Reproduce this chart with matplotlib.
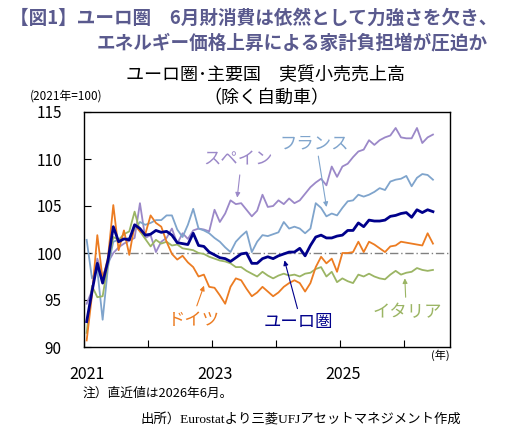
import matplotlib
matplotlib.use("Agg")
import matplotlib.pyplot as plt
import matplotlib.transforms as mtransforms
import numpy as np

plt.rcParams['font.family'] = ['Noto Sans CJK JP', 'DejaVu Sans']

# monthly index, 2021=100, Jan 2021 .. Jun 2026
euro = [92.7, 95.9, 98.9, 96.8, 99.2, 102.8, 101.2, 101.5, 101.4, 103.0,
        102.6, 101.9, 102.0, 102.4, 102.2, 102.3, 101.9, 101.1, 101.0, 100.9,
        102.1, 100.8, 100.7, 100.1, 99.8, 99.5, 99.4, 99.1, 99.5, 99.9,
        100.0, 98.9, 98.9, 99.4, 99.6, 99.4, 99.7, 99.9, 100.1, 100.1,
        100.5, 99.7, 100.8, 101.7, 101.9, 101.6, 101.6, 101.8, 101.9, 102.4,
        102.4, 103.2, 102.8, 103.5, 103.4, 103.4, 103.5, 103.9, 104.0, 104.2,
        104.3, 103.8, 104.6, 104.3, 104.6, 104.4]
germany = [90.7, 95.5, 101.9, 97.2, 99.5, 105.1, 100.3, 102.4, 99.8, 103.0,
           102.3, 102.0, 104.0, 103.2, 102.8, 101.2, 99.9, 99.3, 99.7, 99.0,
           98.5, 97.5, 97.7, 96.4, 96.3, 95.5, 94.6, 96.4, 97.3, 97.1,
           96.2, 95.4, 95.8, 96.4, 95.9, 95.4, 95.8, 96.4, 96.8, 97.1,
           96.8, 95.9, 96.8, 98.5, 99.6, 98.9, 99.4, 98.0, 100.0, 100.0,
           100.1, 101.2, 100.1, 101.2, 100.9, 100.5, 100.1, 100.7, 100.8, 101.2,
           101.1, 101.0, 100.9, 100.8, 102.1, 101.0]
italy = [91.5, 96.5, 95.3, 95.4, 98.9, 101.7, 101.4, 102.0, 102.3, 104.4,
         102.3, 101.5, 100.7, 101.4, 101.0, 101.2, 100.8, 100.9, 100.5, 100.4,
         100.3, 100.0, 99.9, 99.6, 99.4, 99.2, 99.1, 98.9, 98.5, 98.5,
         98.1, 97.8, 97.5, 98.0, 97.6, 97.3, 97.6, 97.8, 97.6, 97.7,
         97.5, 97.8, 97.9, 98.3, 98.5, 97.5, 98.0, 96.9, 97.3, 97.0,
         96.8, 97.7, 97.5, 97.8, 97.5, 97.3, 97.2, 97.7, 98.1, 97.7,
         97.9, 98.0, 98.4, 98.2, 98.1, 98.2]
france = [101.4, 97.3, 98.2, 92.9, 98.5, 101.2, 101.4, 101.5, 101.6, 102.5,
          103.3, 103.0, 103.2, 103.5, 103.5, 104.0, 104.0, 102.5, 101.7, 103.0,
          104.7, 102.6, 102.4, 102.1, 101.6, 101.2, 100.6, 100.1, 101.2, 101.8,
          102.3, 100.1, 101.2, 101.9, 101.8, 102.0, 102.2, 103.3, 102.6, 102.8,
          102.6, 102.1, 102.6, 105.3, 104.8, 103.9, 104.2, 104.0, 104.8, 105.5,
          105.6, 106.2, 106.0, 106.2, 106.5, 106.9, 106.7, 107.6, 107.8, 107.9,
          108.2, 107.1, 108.0, 108.4, 108.3, 107.8]
spain = [94.6, 96.0, 99.4, 97.5, 99.0, 100.0, 100.6, 101.0, 101.3, 101.6,
         105.3, 101.6, 101.9, 100.1, 101.2, 101.6, 102.6, 101.0, 102.1, 101.5,
         102.4, 102.6, 102.5, 102.3, 104.6, 103.3, 104.2, 105.6, 105.2, 105.3,
         104.6, 103.9, 104.5, 106.2, 104.9, 105.0, 105.6, 105.2, 105.8, 105.3,
         105.6, 106.3, 107.0, 107.5, 107.9, 107.2, 109.2, 108.1, 109.2, 109.5,
         110.2, 110.8, 111.0, 112.0, 111.5, 112.0, 112.3, 112.5, 113.3, 112.3,
         112.2, 112.2, 113.3, 111.7, 112.3, 112.6]

year_labels = ['2021', '', '2023', '', '2025', '']

c_euro = '#00008B'
c_ger = '#EC7C22'
c_ita = '#9BB564'
c_fra = '#7FA4CC'
c_spa = '#9B88C8'
c_title = '#5A5A8E'

fig = plt.figure(figsize=(5.1, 4.3), dpi=100)
ax = fig.add_axes([84/510, 83/430, 366/510, 235/430])

x = np.arange(len(euro)) + 0.5
ax.axhline(100, color='#808080', lw=1.0, ls=(0, (6, 2, 1, 2)), zorder=1)
ax.plot(x, spain, color=c_spa, lw=1.3, zorder=2)
ax.plot(x, france, color=c_fra, lw=1.3, zorder=2)
ax.plot(x, italy, color=c_ita, lw=1.3, zorder=2)
ax.plot(x, germany, color=c_ger, lw=1.3, zorder=3)
ax.plot(x, euro, color=c_euro, lw=2.0, zorder=4)

ax.set_xlim(0, 68.7)
ax.set_ylim(90, 115)
ax.set_yticks([90, 95, 100, 105, 110, 115])
ax.set_xticks([0, 12, 24, 36, 48, 60])
ax.set_xticklabels(year_labels)
ax.tick_params(axis='y', direction='in', length=5, pad=16, labelsize=11)
ax.tick_params(axis='x', direction='in', length=5, pad=14, labelsize=11.5)
shift = mtransforms.ScaledTranslation(3/100, 0, fig.dpi_scale_trans)
for lbl in ax.get_xticklabels():
    lbl.set_transform(lbl.get_transform() + shift)
for s in ax.spines.values():
    s.set_linewidth(1.0)
    s.set_color('black')

# series labels with arrows
labels = [
    ('スペイン', c_spa, (28.9, 109.9), (29.3, 108.6), (28.7, 105.6)),
    ('フランス', c_fra, (43.3, 111.7), (43.9, 110.6), (45.6, 104.6)),
    ('ドイツ', c_ger, (20.6, 92.9), (21.0, 94.1), (22.7, 96.8)),
    ('ユーロ圏', c_euro, (40.2, 92.7), (40.2, 93.8), (37.5, 99.5)),
    ('イタリア', c_ita, (60.6, 93.7), (60.4, 95.0), (60.2, 97.6)),
]
for name, col, pos, start, end in labels:
    ax.text(pos[0], pos[1], name, color=col, fontsize=12.5, ha='center', va='center')
    ax.annotate('', xy=end, xytext=start,
                arrowprops=dict(arrowstyle='-|>', color=col, lw=0.8, mutation_scale=7))

fig.text(10/510, 1 - 18/430, '【図1】ユーロ圏　6月財消費は依然として力強さを欠き、',
         color=c_title, fontsize=13.4, fontweight='bold', ha='left', va='center')
fig.text(97/510, 1 - 43/430, 'エネルギー価格上昇による家計負担増が圧迫か',
         color=c_title, fontsize=13.4, fontweight='bold', ha='left', va='center')
fig.text(266/510, 1 - 75/430, 'ユーロ圏･主要国　実質小売売上高', fontsize=13,
         ha='center', va='center')
fig.text(266/510, 1 - 98/430, '（除く自動車）', fontsize=13, ha='center', va='center')
fig.text(66/510, 1 - 96/430, '(2021年=100)', fontsize=8.5, ha='center', va='center')
fig.text(440/510, 1 - 355/430, '(年)', fontsize=8, ha='center', va='center')
fig.text(83/510, 1 - 393/430, '注）直近値は2026年6月。', fontsize=9.2, ha='left', va='center')
fig.text(141/510, 1 - 420/430, '出所）Eurostatより三菱UFJアセットマネジメント作成', fontsize=9.6,
         ha='left', va='center', family=['Liberation Serif', 'Noto Sans CJK JP'])

fig.savefig('out.png', dpi=100)
